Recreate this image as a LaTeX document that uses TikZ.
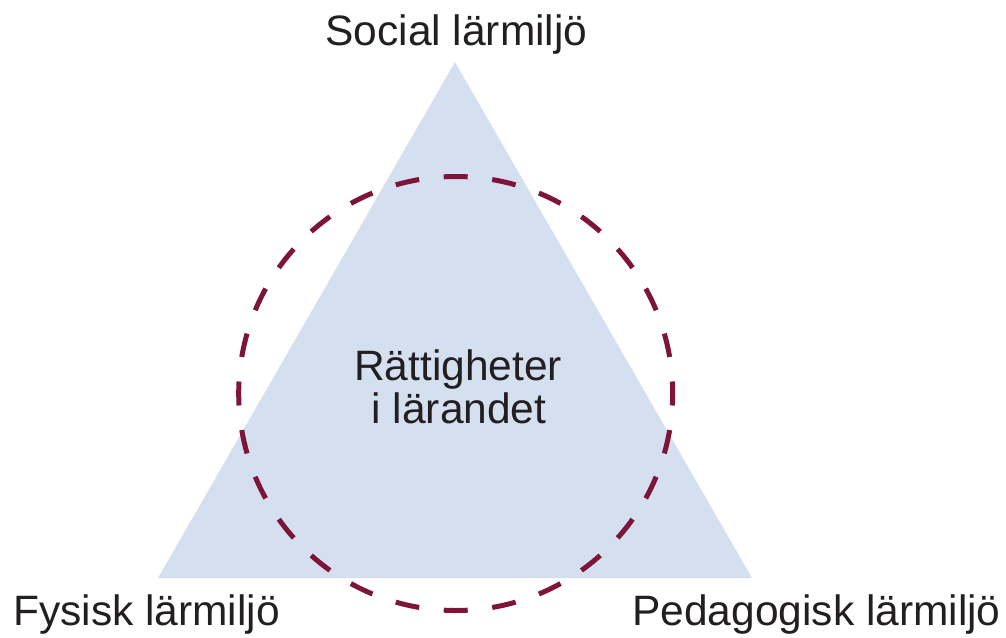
\documentclass[tikz,border=0pt]{standalone}
\usepackage{fontspec}
\setmainfont{Liberation Sans}
\definecolor{trifill}{HTML}{D4DFF0}
\definecolor{circcol}{HTML}{7E1538}
\definecolor{txtcol}{HTML}{231F20}
\begin{document}
\begin{tikzpicture}[x=1pt,y=-1pt,
  lbl/.style={font=\fontsize{42.5}{43}\selectfont, text=txtcol, inner sep=0pt, anchor=base},
  lblw/.style={font=\fontsize{42.5}{43}\selectfont, text=txtcol, inner sep=0pt, anchor=base west}]
\useasboundingbox (0,0) rectangle (1006,637);
\coordinate (apex) at (455,62);
\coordinate (bl) at (158,578);
\coordinate (br) at (752,578);
\fill[trifill] (apex) -- (br) -- (bl) -- cycle;
\draw[circcol, line width=5pt, dash pattern=on 24pt off 24.7pt, dash phase=12pt] (455.7,393.5) circle[radius=217];
\node[lbl] (social) at (456.5,45) {Social lärmiljö};
\node[lblw] (fysisk) at (13,625) {Fysisk lärmiljö};
\node[lblw] (ped) at (632,625) {Pedagogisk lärmiljö};
\node[lbl] (r1) at (458,380) {Rättigheter};
\node[lbl] (r2) at (459,423) {i lärandet};
\end{tikzpicture}
\end{document}
